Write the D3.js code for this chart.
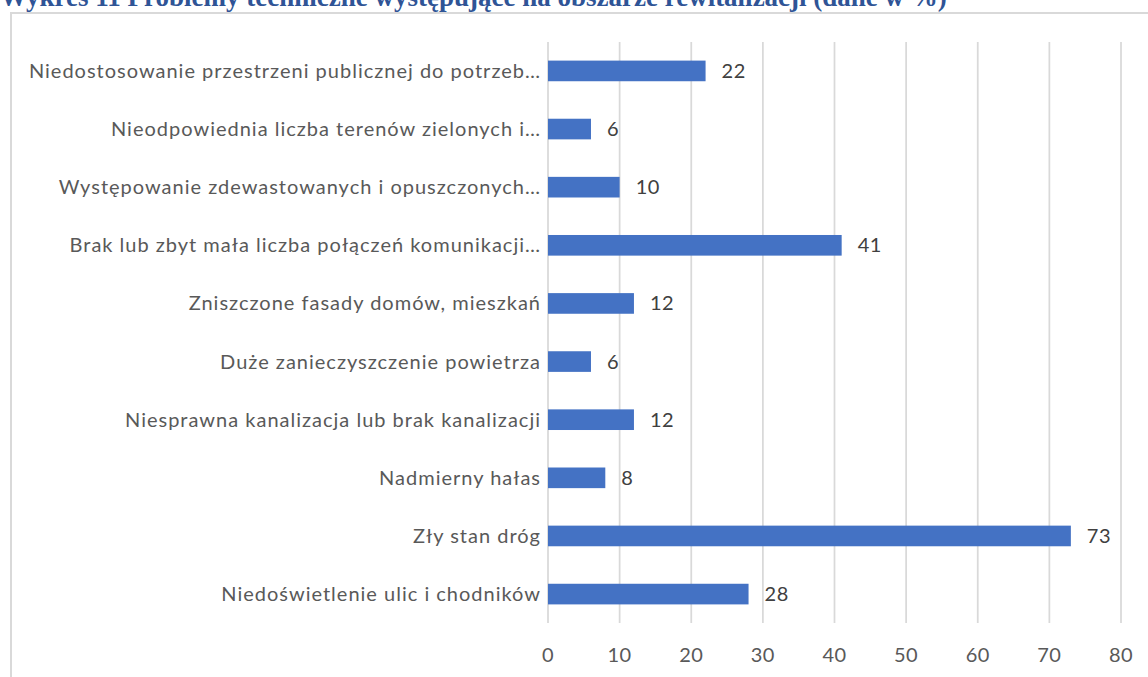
<!DOCTYPE html>
<html>
<head>
<meta charset="utf-8">
<script src="https://cdn.jsdelivr.net/npm/d3@7"></script>
<style>
  html, body { margin: 0; padding: 0; background: #fff; overflow: hidden; }
  svg { display: block; }
</style>
</head>
<body>
<div id="chart"></div>
<script>
// dane z wykresu (w %), od góry do dołu
const categories = [
    'Niedostosowanie przestrzeni publicznej do potrzeb…',
    'Nieodpowiednia liczba terenów zielonych i…',
    'Występowanie zdewastowanych i opuszczonych…',
    'Brak lub zbyt mała liczba połączeń komunikacji…',
    'Zniszczone fasady domów, mieszkań',
    'Duże zanieczyszczenie powietrza',
    'Niesprawna kanalizacja lub brak kanalizacji',
    'Nadmierny hałas',
    'Zły stan dróg',
    'Niedoświetlenie ulic i chodników'
];
const values = [22, 6, 10, 41, 12, 6, 12, 8, 73, 28];
const xTicks = [0, 10, 20, 30, 40, 50, 60, 70, 80];
const title = 'Wykres 11 Problemy techniczne występujące na obszarze rewitalizacji (dane w %)';

const width = 1148, height = 677;
const font = 'Lato, "Open Sans", sans-serif';

const svg = d3.select('#chart')
    .append('svg')
    .attr('width', width)
    .attr('height', height);

// tytuł (ucięty u góry jak w oryginale)
svg.append('text')
    .attr('x', 0)
    .attr('y', 6)
    .attr('font-family', '"Liberation Serif", serif')
    .attr('font-weight', 'bold')
    .attr('font-size', 27)
    .attr('fill', '#2f5496')
    .text(title);

// ramka wykresu
svg.append('rect')
    .attr('x', 11)
    .attr('y', 13)
    .attr('width', 1200)
    .attr('height', 700)
    .attr('fill', '#fff')
    .attr('stroke', '#d9d9d9')
    .attr('stroke-width', 2);

const x = d3.scaleLinear()
    .domain([0, 80])
    .range([548, 1121]);

const y = d3.scaleBand()
    .domain(categories)
    .range([42, 623])
    .paddingInner(0.645)
    .paddingOuter(0.32);

// linie siatki
svg.append('g')
    .selectAll('line')
    .data(xTicks)
    .join('line')
    .attr('x1', d => x(d))
    .attr('x2', d => x(d))
    .attr('y1', 42)
    .attr('y2', 623)
    .attr('stroke', '#d9d9d9')
    .attr('stroke-width', 1.75);

// etykiety osi X
svg.append('g')
    .selectAll('text')
    .data(xTicks)
    .join('text')
    .attr('x', d => x(d))
    .attr('y', 655)
    .attr('dy', '0.35em')
    .attr('text-anchor', 'middle')
    .attr('font-family', font)
    .attr('font-size', 20)
    .attr('letter-spacing', 0.5)
    .attr('fill', '#595959')
    .text(d => d);

// słupki
svg.append('g')
    .selectAll('rect')
    .data(values)
    .join('rect')
    .attr('x', x(0))
    .attr('y', (d, i) => y(categories[i]))
    .attr('width', d => x(d) - x(0))
    .attr('height', y.bandwidth())
    .attr('fill', '#4472c4');

// etykiety kategorii
svg.append('g')
    .selectAll('text')
    .data(categories)
    .join('text')
    .attr('x', x(0) - 7)
    .attr('y', d => y(d) + y.bandwidth() / 2)
    .attr('dy', '0.35em')
    .attr('text-anchor', 'end')
    .attr('font-family', font)
    .attr('font-size', 20)
    .attr('letter-spacing', 1)
    .attr('fill', '#595959')
    .text(d => d);

// etykiety wartości
svg.append('g')
    .selectAll('text')
    .data(values)
    .join('text')
    .attr('x', d => x(d) + 16)
    .attr('y', (d, i) => y(categories[i]) + y.bandwidth() / 2)
    .attr('dy', '0.35em')
    .attr('font-family', font)
    .attr('font-size', 20)
    .attr('letter-spacing', 0.5)
    .attr('fill', '#404040')
    .text(d => d);
</script>
</body>
</html>
